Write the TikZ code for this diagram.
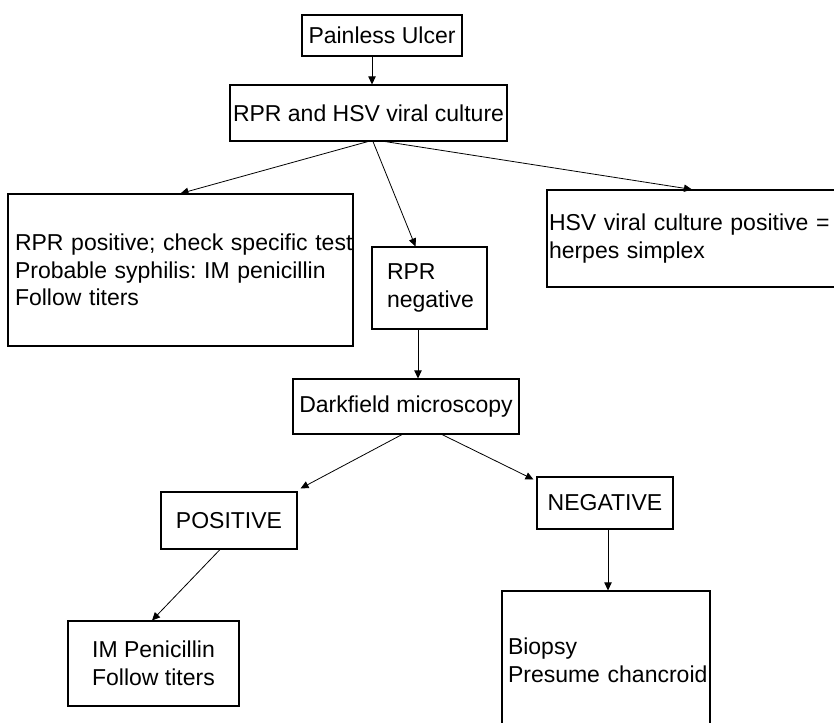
\documentclass[tikz,border=0pt]{standalone}
\usepackage{fontspec}
\setmainfont{Liberation Sans}
\usetikzlibrary{arrows.meta,calc}
\frenchspacing
\begin{document}
\begin{tikzpicture}[x=0.75pt,y=-0.75pt,
  box/.style={draw, line width=0.8pt, inner sep=0pt, font=\fontsize{17.25pt}{20.8pt}\selectfont},
  arr/.style={-{Triangle[length=6pt,width=5.5pt]}, line width=0.6pt}]
\useasboundingbox (0,0) rectangle (834,723);
\clip (0,0) rectangle (834,723);
\fill[white] (0,0) rectangle (834,723);
\node[box, minimum width=120pt, minimum height=30.75pt] (pu) at (382,35.5) {Painless Ulcer};
\node[box, minimum width=207.75pt, minimum height=42pt] (rh) at (368.5,113) {RPR and HSV viral culture};
\node[box, minimum width=258.75pt, minimum height=114pt, text width=248.25pt, align=left] (lb) at (180.5,270) {\mbox{RPR positive; check specific test}\\\mbox{Probable syphilis: IM penicillin}\\\mbox{Follow titers}};
\node[box, minimum width=86.25pt, minimum height=61.5pt, text width=63.75pt, align=left] (rn) at (429.5,288) {\mbox{RPR}\\\mbox{negative}};
\node[box, minimum width=234.75pt, minimum height=72.75pt, text width=231.75pt, align=left] (rb) at (703.5,238.5) {\mbox{HSV viral culture positive =}\\\mbox{herpes simplex}};
\node[box, minimum width=169.5pt, minimum height=41.25pt] (df) at (406,406.5) {Darkfield microscopy};
\node[box, minimum width=102pt, minimum height=42.75pt] (pos) at (229,520.5) {POSITIVE};
\node[box, minimum width=102pt, minimum height=39pt] (neg) at (605,503) {NEGATIVE};
\node[box, minimum width=128.25pt, minimum height=63.75pt, align=center] (imp) at (153.5,663.5) {IM Penicillin\\Follow titers};
\node[box, minimum width=156pt, minimum height=103.5pt, text width=147pt, align=left] (bio) at (606,660) {\mbox{Biopsy}\\\mbox{Presume chancroid}};
\draw[arr] ($(pu.south)+(-10,0)$) -- ($(rh.north)+(3.5,0)$);
\draw[arr] ($(rh.south)+(-0.5,0)$) -- (lb.north);
\draw[arr] ($(rh.south)+(4.5,0)$) -- ($(rn.north)+(-14,0)$);
\draw[arr] ($(rh.south)+(16.5,0)$) -- ($(rb.north)+(-11.5,0)$);
\draw[arr] ($(rn.south)+(-11.5,0)$) -- ($(df.north)+(12,0)$);
\draw[arr] ($(df.south)+(-4,0)$) -- ($(pos.north east)+(3,-3)$);
\draw[arr] ($(df.south)+(36,0)$) -- ($(neg.north west)+(-3,3)$);
\draw[arr] ($(pos.south)+(-9,0)$) -- ($(imp.north)+(-1.5,0)$);
\draw[arr] ($(neg.south)+(3,0)$) -- ($(bio.north)+(2,0)$);
\end{tikzpicture}
\end{document}
